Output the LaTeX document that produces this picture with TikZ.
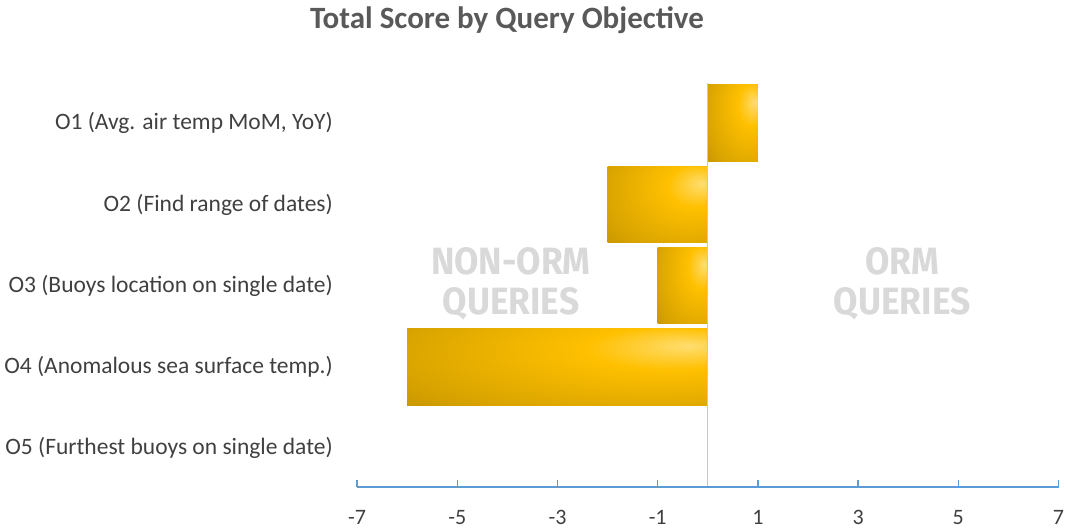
\documentclass[tikz,border=0pt]{standalone}
\usepackage{fontspec}
\usepackage{graphicx}
\setmainfont{Carlito}
\newfontfamily\bannerfont{Fira Sans}
\usetikzlibrary{calc}

\definecolor{txtgray}{HTML}{404040}
\definecolor{titlegray}{HTML}{595959}
\definecolor{bannergray}{HTML}{D9D9D9}
\definecolor{zerogray}{HTML}{C8C8C8}
\definecolor{axisblue}{HTML}{5B9BD5}
\definecolor{golddark}{HTML}{9C7400}
\definecolor{goldmid}{HTML}{D9A400}
\definecolor{gold}{HTML}{FFC000}
\definecolor{goldlight}{HTML}{FFDD70}
\pgfdeclareradialshading{goldglow}{\pgfpoint{22bp}{14bp}}{color(0bp)=(goldlight); color(14bp)=(gold); color(40bp)=(goldmid); color(75bp)=(golddark); color(100bp)=(golddark)}

\begin{document}
\begin{tikzpicture}[x=1pt,y=1pt,
  catlabel/.style={anchor=east, inner sep=0, text=txtgray, font=\fontsize{23.5}{25}\selectfont},
  ticklabel/.style={anchor=base, inner sep=0, text=txtgray, font=\fontsize{22}{24}\selectfont},
  banner/.style={align=center, inner sep=0, text=bannergray, font=\bannerfont\bfseries\fontsize{38}{40}\selectfont},
  scorebar/.style={shading=goldglow}]
\useasboundingbox (0,0) rectangle (1073,529);
\node[font=\bfseries\fontsize{31}{33}\selectfont, text=titlegray] (title) at (507,509) {Total Score by Query Objective};

% objectives, top to bottom
\foreach \lbl [count=\k] in {{O1 (Avg. air temp MoM, YoY)},{O2 (Find range of dates)},{O3 (Buoys location on single date)},{O4 (Anomalous sea surface temp.)},{O5 (Furthest buoys on single date)}} {
  \node[catlabel] (obj\k) at (333,{405.7-81.2*(\k-1)}) {\lbl};
}

\begin{scope}[xshift=707.8pt, x=50.1pt]
  \node[banner] (nonorm) at (-3.93,245) {\scalebox{0.93}[1]{NON-ORM}\\\scalebox{0.93}[1]{QUERIES}};
  \node[banner] (orm) at (3.88,245) {\scalebox{0.93}[1]{ORM}\\\scalebox{0.93}[1]{QUERIES}};
  % bars
  \shade[scorebar] (0,367.4) rectangle (1,444);
  \shade[scorebar] (-2,286.2) rectangle (0,362.8);
  \shade[scorebar] (-1,205) rectangle (0,281.6);
  \shade[scorebar] (-6,123.8) rectangle (0,200.4);
  % zero line and axis
  \draw[zerogray, line width=1.2pt] (0,42) -- (0,446);
  \draw[axisblue, line width=1.8pt] (-7,42) -- (7,42);
  \foreach \v [count=\i] in {-7,-5,...,7} {
    \draw[axisblue, line width=1.5pt] (\v,42) -- ++(0,6.5);
    \node[ticklabel] (tick\i) at (\v,4) {\v};
  }
\end{scope}
\end{tikzpicture}
\end{document}
